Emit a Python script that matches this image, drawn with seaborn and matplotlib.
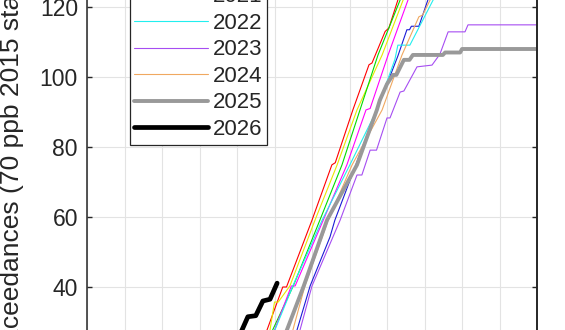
import numpy as np
import pandas as pd
import matplotlib
matplotlib.use("Agg")
import matplotlib.pyplot as plt
import seaborn as sns

# ---- data (x = month of year, 0..12; y = cumulative exceedances) ----
years = ["2017", "2018", "2019", "2020", "2021", "2022", "2023", "2024", "2025", "2026"]

m_2017 = [0, 3.7, 4.80, 5.22, 5.32, 6.00, 6.53, 6.62, 7.09, 7.52, 7.60, 7.95, 8.05, 8.29, 8.8, 12]
v_2017 = [0, 0, 27.7, 40, 40, 59.1, 74.9, 75.5, 90.6, 103.5, 104, 113, 114, 122, 134, 134]

m_2018 = [0, 3.8, 4.88, 5.00, 5.10, 5.41, 6.08, 6.67, 7.20, 7.87, 8.43, 8.9, 12]
v_2018 = [0, 0, 27.7, 35.7, 35.7, 40.3, 59.1, 74.9, 90.6, 106.3, 122, 133, 133]

m_2019 = [0, 3.9, 4.95, 5.50, 6.21, 6.80, 7.28, 7.76, 8.35, 8.9, 12]
v_2019 = [0, 0, 27.7, 40.3, 59.1, 74.9, 90.6, 106.3, 122, 135, 135]

m_2020 = [0, 3.9, 5.00, 5.45, 5.55, 6.30, 6.93, 7.44, 7.55, 8.03, 8.56, 9.0, 12]
v_2020 = [0, 0, 27.7, 40.3, 40.3, 59.1, 74.9, 90.6, 91, 106.3, 122, 131, 131]

m_2021 = [0, 4.5, 5.60, 5.95, 6.48, 6.61, 7.47, 7.73, 8.0, 8.29, 8.53, 8.60, 8.65, 8.85, 9.09, 9.4, 12]
v_2021 = [0, 0, 27.7, 40.3, 54.3, 59.1, 83.4, 90.6, 98, 106, 113.5, 113.5, 114.5, 114.5, 122, 128, 128]

m_2022 = [0, 4.0, 5.01, 5.49, 6.27, 7.01, 7.73, 8.21, 8.29, 8.61, 9.23, 9.6, 12]
v_2022 = [0, 0, 27.7, 40.3, 59.1, 74.9, 90.6, 105, 109.1, 109.1, 122, 127, 127]

m_2023 = [0, 4.6, 5.68, 6.00, 6.75, 7.20, 7.33, 7.55, 7.72, 8.00, 8.08, 8.35, 8.45,
          8.80, 9.20, 9.41, 9.63, 10.08, 10.16, 12]
v_2023 = [0, 0, 27.7, 40.3, 59.1, 72, 72, 79.1, 79.1, 88.3, 88.3, 95.7, 96,
          102.9, 103.4, 106.5, 112.9, 112.9, 114.9, 114.9]

m_2024 = [0, 4.5, 5.49, 5.81, 6.43, 7.07, 7.87, 8.40, 8.85, 8.95, 9.15, 9.5, 12]
v_2024 = [0, 0, 27.7, 40.3, 59.1, 74.9, 90.6, 106.3, 117.2, 117.7, 122, 127, 127]

m_2025 = [0, 4.3, 5.33, 5.78, 6.40, 7.20, 7.73, 7.81, 8.00, 8.16, 8.25, 8.45, 8.60,
          8.69, 9.49, 9.55, 9.95, 10.0, 12]
v_2025 = [0, 0, 27.7, 40.3, 59.1, 74.9, 90.6, 93.4, 98, 100.6, 100.6, 104.9, 104.9,
          106.3, 106.3, 107, 107, 108, 108]

m_2026 = [0, 3.3, 3.80, 3.88, 4.00, 4.29, 4.50, 4.69, 4.88, 5.07]
v_2026 = [0, 0, 18, 19, 24.5, 31.5, 31.8, 36.0, 36.5, 41.1]

months = [m_2017, m_2018, m_2019, m_2020, m_2021, m_2022, m_2023, m_2024, m_2025, m_2026]
values = [v_2017, v_2018, v_2019, v_2020, v_2021, v_2022, v_2023, v_2024, v_2025, v_2026]

colors = ["#ff0000", "#e8e800", "#00dd00", "#ff00ff", "#1a1ad6",
          "#22eeee", "#a64df2", "#f0a860", "#999999", "#000000"]
widths = [0.8, 0.8, 0.8, 0.8, 0.8, 0.8, 0.8, 0.8, 2.8, 3.4]

y_ticks = [40, 60, 80, 100, 120]
ylabel = "Exceedances (70 ppb 2015 standard)"

# ---- style ----
sns.set_style("whitegrid")
plt.rcParams["font.family"] = ["Liberation Sans", "DejaVu Sans"]
dark = "#262626"

W, H = 565, 330
fig = plt.figure(figsize=(W / 100, H / 100), dpi=100)
ax = fig.add_axes([87 / W, -97 / H, 450 / W, 455 / H])

for yr, mx, vy, c, lw in zip(years, months, values, colors, widths):
    df = pd.DataFrame({"month": mx, "count": vy})
    sns.lineplot(data=df, x="month", y="count", ax=ax, color=c, linewidth=lw,
                 label=yr, sort=False, estimator=None)

ax.set_xlim(0, 12)
ax.set_ylim(0, 130)
ax.set_xticks(np.arange(0, 13, 1))
ax.set_xticklabels([])
ax.set_yticks(y_ticks)
ax.set_xlabel("")
ax.set_ylabel("")
ax.grid(True, color="#e3e3e3", linewidth=0.8)
ax.set_facecolor("white")
for s in ax.spines.values():
    s.set_color(dark)
    s.set_linewidth(1.1)
ax.spines["right"].set_linewidth(1.4)
ax.tick_params(axis="both", direction="in", length=3.8, width=1.0, color=dark,
               labelsize=16.5, labelcolor=dark, pad=6.5,
               left=True, right=True, top=True, bottom=True)

leg = ax.legend(loc="lower left", bbox_to_anchor=(130 / W, 185.5 / H),
                bbox_transform=fig.transFigure, borderaxespad=0,
                fontsize=16, frameon=True, fancybox=False, framealpha=1,
                edgecolor=dark, handlelength=3.3, handletextpad=0.22,
                borderpad=0.2, labelspacing=0.25)
leg.get_frame().set_linewidth(0.9)
for t in leg.get_texts():
    t.set_color(dark)

fig.text(0.0212, -0.0873, ylabel, rotation=90, ha="center", va="bottom",
         fontsize=19, color=dark)

fig.savefig("out.png", dpi=100)
